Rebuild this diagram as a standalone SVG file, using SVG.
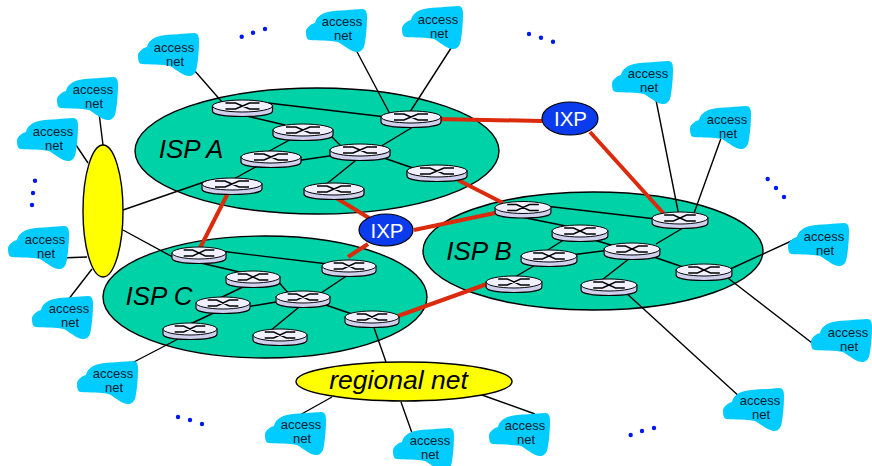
<svg xmlns="http://www.w3.org/2000/svg" width="872" height="466" viewBox="0 0 872 466">
<style>
text{font-family:"Liberation Sans",Arial,sans-serif;text-anchor:middle}
.t{font-size:13px;fill:#04202f}
.isp{fill:#00d2a8;stroke:#000;stroke-width:1.4}
.isplabel{font-size:26px;font-style:italic;fill:#000}
.ln{stroke:#000;stroke-width:1.4;fill:none}
.red{stroke:#dc2a0c;stroke-width:4;fill:none}
.cloud{fill:#00ccff}
.dot{fill:#0018f0}
.ixp{fill:#0a3cee;stroke:#000;stroke-width:1.2}
.ixpt{font-size:20.5px;fill:#fff}
.yel{fill:#ffff00;stroke:#000;stroke-width:1.4}
</style>
<defs>
<symbol id="cloudS" overflow="visible"><path class="cloud" d="M0 22C1 18 5 15 9 14C10 9 14 5 22 3C32 1 48 1 56 0C60 0 61 3 61 8C61 16 60 30 58 38C56 42 54 43 51 43C46 43 40 38 32 33C24 31 12 32 4 31C1 31 0 28 0 22Z"/></symbol>
<symbol id="router" overflow="visible">
<path d="M-30 0V5C-30 8.500 -17 10.500 0 10.500S30 8.500 30 5V0Z" fill="#cfcfee" stroke="#000" stroke-width="1.2"/>
<ellipse cx="0" cy="0" rx="30" ry="6" fill="#f0f0ff" stroke="#000" stroke-width="1"/>
<path d="M-17 -3H-7L7 3H17M-17 3H-7L7 -3H17" fill="none" stroke="#000" stroke-width="1.4"/>
</symbol>
</defs>
<g id="isp-a"><ellipse class="isp" cx="317" cy="151" rx="182" ry="63"/><text class="isplabel" x="191" y="158">ISP A</text></g>
<g id="isp-b"><ellipse class="isp" cx="593" cy="251" rx="170" ry="59"/><text class="isplabel" x="479" y="260">ISP B</text></g>
<g id="isp-c"><ellipse class="isp" cx="265" cy="297" rx="162" ry="61"/><text class="isplabel" x="159" y="305">ISP C</text></g>
<g id="connectors">
<g class="ln">
<path d="M194 70L222 102M355 48L391 116M453 45L408 115M268 103L386 117M238 114L285 125M328 133L345 150M295 137L262 155M295 161L336 155M261 164L232 180M418 124L378 148M360 157L324 186M378 156L413 168M123 210L207 181"/>
<path d="M98 105L103 145M70 136L88 163M123 230L180 261M60 258L87 257M68 300L92 269M130 364L180 338"/>
<path d="M220 251L328 264M192 261L246 273.500M275 278L290 295M247 285L218 299M246 307L282 301M218 311L188 325M357 269L318 295M304 303L270 331M320 303L352 314M372 322L386 362"/>
<path d="M545 206L656 219M516 216L566 226M573 234L543 253M587 238L618 247M571 255L610 250M542 261L510 280M688 225L656 244M634 255L598 283M648 255L683 267"/>
<path d="M655 95L679 216M724 130L693 216M728 270L800 237M724 275L816 346M624 291L741 398M332 397L298 416M401 402L412 433M482 395L535 414"/>
</g>
<g class="red">
<path d="M436 119L542 121M590 132L665 215M228 193L199 250M333 196L369 218M458 180L503 203M414 230L495 213M368 244L348 257M398 316L487 284"/>
</g>
</g>
<g id="r-a1"><use href="#router" x="242.500" y="106"/></g>
<g id="r-a2"><use href="#router" x="303" y="130"/></g>
<g id="r-a3"><use href="#router" x="271" y="157"/></g>
<g id="r-a4"><use href="#router" x="232" y="184"/></g>
<g id="r-a5"><use href="#router" x="411" y="117"/></g>
<g id="r-a6"><use href="#router" x="360" y="150"/></g>
<g id="r-a7"><use href="#router" x="334" y="189"/></g>
<g id="r-a8"><use href="#router" x="437" y="171"/></g>
<g id="r-b1"><use href="#router" transform="translate(523 207.500) scale(.93 1)"/></g>
<g id="r-b2"><use href="#router" transform="translate(580 231) scale(.93 1)"/></g>
<g id="r-b3"><use href="#router" transform="translate(549 256) scale(.93 1)"/></g>
<g id="r-b4"><use href="#router" transform="translate(514 282) scale(.93 1)"/></g>
<g id="r-b5"><use href="#router" transform="translate(680 218) scale(.93 1)"/></g>
<g id="r-b6"><use href="#router" transform="translate(632 249) scale(.93 1)"/></g>
<g id="r-b7"><use href="#router" transform="translate(609 285) scale(.93 1)"/></g>
<g id="r-b8"><use href="#router" transform="translate(704 270) scale(.93 1)"/></g>
<g id="r-c1"><use href="#router" transform="translate(199 253) scale(.9 1)"/></g>
<g id="r-c2"><use href="#router" transform="translate(253 277) scale(.9 1)"/></g>
<g id="r-c3"><use href="#router" transform="translate(223 303) scale(.9 1)"/></g>
<g id="r-c4"><use href="#router" transform="translate(190 329) scale(.9 1)"/></g>
<g id="r-c5"><use href="#router" transform="translate(349 266) scale(.9 1)"/></g>
<g id="r-c6"><use href="#router" transform="translate(303 297) scale(.9 1)"/></g>
<g id="r-c7"><use href="#router" transform="translate(280 335) scale(.9 1)"/></g>
<g id="r-c8"><use href="#router" transform="translate(372 317) scale(.9 1)"/></g>
<g id="hub"><ellipse class="yel" cx="103" cy="211" rx="20" ry="66"/></g>
<g id="regional"><ellipse class="yel" cx="404" cy="381.500" rx="108" ry="19.500"/><text x="398.500" y="389" font-size="26.500" font-style="italic" fill="#000">regional net</text></g>
<g id="ixp-1"><ellipse class="ixp" cx="570" cy="118.500" rx="28" ry="16.500"/><text class="ixpt" x="570.500" y="126">IXP</text></g>
<g id="ixp-2"><ellipse class="ixp" cx="386" cy="230" rx="27" ry="16"/><text class="ixpt" x="387" y="237.500">IXP</text></g>
<g id="c1"><use href="#cloudS" x="138" y="33"/><text class="t" x="174" y="52">access<tspan x="175" dy="14">net</tspan></text></g>
<g id="c2"><use href="#cloudS" x="306" y="9"/><text class="t" x="342" y="26">access<tspan x="343" dy="14">net</tspan></text></g>
<g id="c3"><use href="#cloudS" x="402" y="6"/><text class="t" x="438" y="24">access<tspan x="439" dy="14">net</tspan></text></g>
<g id="c4"><use href="#cloudS" x="612" y="61"/><text class="t" x="648" y="78">access<tspan x="649" dy="14">net</tspan></text></g>
<g id="c5"><use href="#cloudS" x="690" y="106"/><text class="t" x="727" y="124">access<tspan x="728" dy="14">net</tspan></text></g>
<g id="c6"><use href="#cloudS" x="788" y="223"/><text class="t" x="824" y="241">access<tspan x="825" dy="14">net</tspan></text></g>
<g id="c7"><use href="#cloudS" x="811" y="319"/><text class="t" x="848" y="337">access<tspan x="849" dy="14">net</tspan></text></g>
<g id="c8"><use href="#cloudS" x="723" y="388"/><text class="t" x="760" y="405">access<tspan x="761" dy="14">net</tspan></text></g>
<g id="c9"><use href="#cloudS" x="489" y="413"/><text class="t" x="525" y="430">access<tspan x="526" dy="14">net</tspan></text></g>
<g id="c10"><use href="#cloudS" x="393" y="428"/><text class="t" x="430" y="445">access<tspan x="430" dy="14">net</tspan></text></g>
<g id="c11"><use href="#cloudS" x="265" y="412"/><text class="t" x="301" y="429">access<tspan x="302" dy="14">net</tspan></text></g>
<g id="c12"><use href="#cloudS" x="77" y="361"/><text class="t" x="113" y="378">access<tspan x="114" dy="14">net</tspan></text></g>
<g id="c13"><use href="#cloudS" x="32" y="296"/><text class="t" x="69" y="313">access<tspan x="70" dy="14">net</tspan></text></g>
<g id="c14"><use href="#cloudS" x="8" y="226"/><text class="t" x="45" y="244">access<tspan x="46" dy="14">net</tspan></text></g>
<g id="c15"><use href="#cloudS" x="17" y="118"/><text class="t" x="53" y="136">access<tspan x="54" dy="14">net</tspan></text></g>
<g id="c16"><use href="#cloudS" x="57" y="77"/><text class="t" x="93" y="94">access<tspan x="94" dy="14">net</tspan></text></g>
<g id="dots" class="dot">
<circle cx="241.700" cy="36.700" r="2.200"/><circle cx="253" cy="32.700" r="2.200"/><circle cx="265" cy="29" r="2.200"/>
<circle cx="529" cy="34" r="2.200"/><circle cx="541" cy="37.700" r="2.200"/><circle cx="553" cy="41.700" r="2.200"/>
<circle cx="35" cy="180.700" r="2.200"/><circle cx="33" cy="193" r="2.200"/><circle cx="32" cy="205" r="2.200"/>
<circle cx="767.700" cy="179" r="2.200"/><circle cx="776" cy="188" r="2.200"/><circle cx="784" cy="197" r="2.200"/>
<circle cx="178" cy="417" r="2.200"/><circle cx="190" cy="420" r="2.200"/><circle cx="202" cy="424" r="2.200"/>
<circle cx="630.700" cy="435" r="2.200"/><circle cx="642" cy="431" r="2.200"/><circle cx="654" cy="428" r="2.200"/>
</g>
</svg>
